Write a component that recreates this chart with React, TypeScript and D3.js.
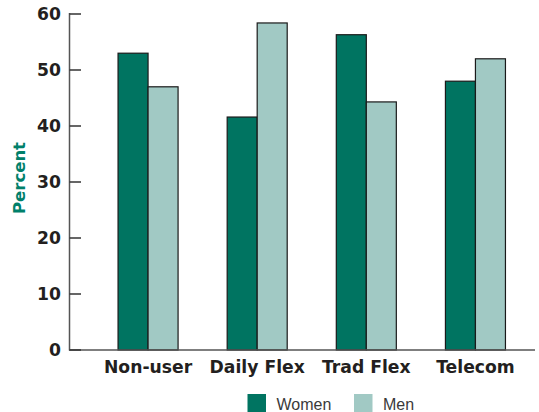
import React from "react";
import * as d3 from "d3";

const categories = ["Non-user", "Daily Flex", "Trad Flex", "Telecom"];
const seriesNames = ["Women", "Men"];
const women = [53, 41.6, 56.3, 48];
const men = [47, 58.4, 44.3, 52];
const yTicks = [0, 10, 20, 30, 40, 50, 60];

const W = 539;
const H = 412;
const colors = ["#007461", "#a1c9c4"];
const boldFont = "'DejaVu Sans', sans-serif";
const textColor = "#231f20";

export default function App() {
  const y = d3.scaleLinear().domain([0, 60]).range([350, 14]);
  const x = d3
    .scaleBand<string>()
    .domain(categories)
    .range([93.5, 530])
    .paddingInner(0.45)
    .paddingOuter(0.225);
  const xs = d3.scaleBand<string>().domain(seriesNames).range([0, x.bandwidth()]);
  const values = [women, men];

  return (
    <svg
      width={W}
      height={H}
      style={{ position: "absolute", left: 0, top: 0, background: "#fff" }}
    >
      {categories.map((c, i) => (
        <g key={c} transform={`translate(${x(c)},0)`}>
          {seriesNames.map((s, j) => (
            <rect
              key={s}
              x={xs(s)}
              y={y(values[j][i])}
              width={xs.bandwidth()}
              height={y(0) - y(values[j][i])}
              fill={colors[j]}
              stroke="#1a1a1a"
              strokeWidth={1.2}
            />
          ))}
        </g>
      ))}
      <line x1={69.5} x2={69.5} y1={y(60) - 1} y2={y(0) + 0.5} stroke="#555" strokeWidth={1.5} />
      <line x1={69} x2={535} y1={y(0)} y2={y(0)} stroke="#555" strokeWidth={1.5} />
      {yTicks.map((t) => (
        <g key={t}>
          <line x1={69.5} x2={81} y1={y(t)} y2={y(t)} stroke="#333" strokeWidth={1.5} />
          <text
            x={61}
            y={y(t)}
            dy="0.36em"
            textAnchor="end"
            fontFamily={boldFont}
            fontWeight="bold"
            fontSize={17.2}
            fill={textColor}
          >
            {t}
          </text>
        </g>
      ))}
      {categories.map((c) => (
        <text
          key={c}
          x={(x(c) as number) + x.bandwidth() / 2}
          y={372.5}
          textAnchor="middle"
          fontFamily={boldFont}
          fontWeight="bold"
          fontSize={17.2}
          fill={textColor}
        >
          {c}
        </text>
      ))}
      <text
        transform={`translate(25,178) rotate(-90)`}
        textAnchor="middle"
        fontFamily={boldFont}
        fontWeight="bold"
        fontSize={16.5}
        fill="#00806a"
      >
        Percent
      </text>
      {seriesNames.map((s, j) => {
        const lx = j === 0 ? 247.5 : 354;
        return (
          <g key={s}>
            <rect x={lx} y={394} width={18.5} height={19} fill={colors[j]} />
            <text
              x={lx + 29}
              y={409.5}
              fontFamily="'Liberation Sans', Arial, sans-serif"
              fontSize={16}
              fill="#3a3a3a"
            >
              {s}
            </text>
          </g>
        );
      })}
    </svg>
  );
}
